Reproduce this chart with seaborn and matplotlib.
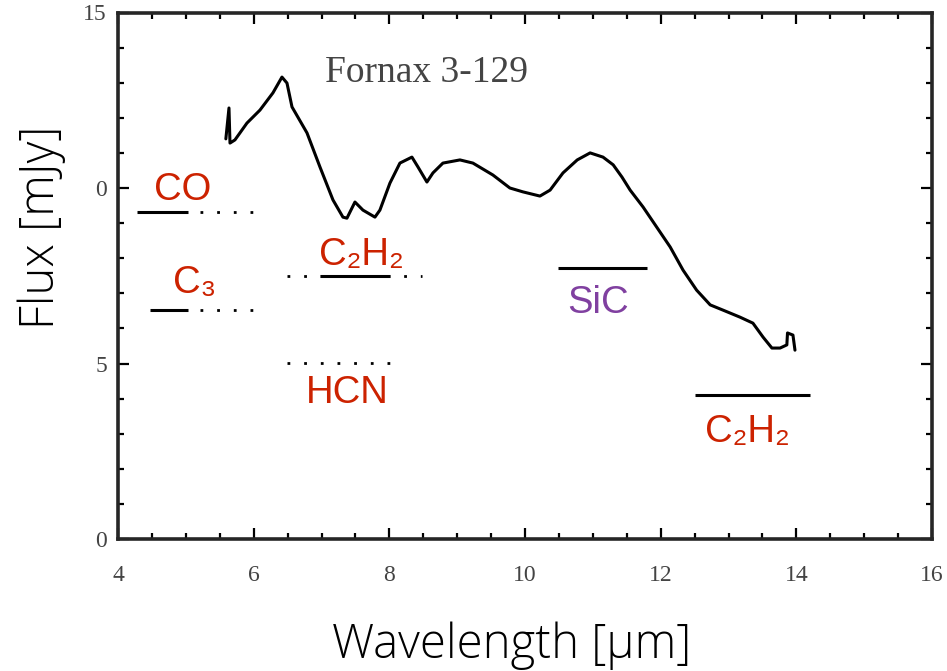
import numpy as np
import pandas as pd
import seaborn as sns
import matplotlib.pyplot as plt
from matplotlib.ticker import MultipleLocator, FixedLocator

# Spectrum of Fornax 3-129
wavelength = [5.59, 5.636, 5.651, 5.724, 5.901, 6.093, 6.284, 6.417, 6.491, 6.565,
              6.786, 6.977, 7.169, 7.316, 7.375, 7.493, 7.611, 7.788, 7.861, 8.009,
              8.156, 8.333, 8.422, 8.554, 8.643, 8.790, 9.041, 9.232, 9.527, 9.777,
              9.969, 10.22, 10.37, 10.56, 10.77, 10.96, 11.15, 11.30, 11.43, 11.55,
              11.74, 11.94, 12.14, 12.33, 12.53, 12.73, 12.92, 13.17, 13.36, 13.51,
              13.64, 13.76, 13.86, 13.87, 13.95, 13.98]
flux = [11.40, 12.28, 11.28, 11.37, 11.85, 12.22, 12.71, 13.16, 12.99, 12.31,
        11.57, 10.60, 9.66, 9.17, 9.14, 9.60, 9.37, 9.17, 9.37, 10.14,
        10.71, 10.88, 10.60, 10.17, 10.43, 10.71, 10.80, 10.71, 10.37, 10.00,
        9.89, 9.77, 9.94, 10.43, 10.80, 11.00, 10.88, 10.66, 10.31, 9.94,
        9.46, 8.89, 8.32, 7.66, 7.09, 6.67, 6.52, 6.32, 6.15, 5.75,
        5.44, 5.44, 5.53, 5.87, 5.81, 5.38]

# Molecular bands
band_names = ["CO", "C₃", "C₂H₂", "HCN", "SiC", "C₂H₂"]
band_level = [9.32, 6.52, 7.49, 5.01, 7.72, 4.10]
solid_start = [4.28, 4.47, 6.98, None, 10.49, 12.50]
solid_end = [5.03, 5.03, 8.01, None, 11.80, 14.20]
dot_start = [5.21, 5.21, 6.49, 6.49, None, None]
dot_end = [5.99, 5.99, 8.48, 8.20, None, None]
band_colors = ["#CC2200", "#CC2200", "#CC2200", "#CC2200", "#8040A0", "#CC2200"]
label_x = [4.53, 4.81, 6.96, 6.77, 10.62, 12.65]
label_y = [9.66, 7.01, 7.81, 3.87, 6.44, 2.76]

sns.set_style("ticks")
plt.rcParams['font.family'] = ['Liberation Serif', 'DejaVu Serif']

fig = plt.figure(figsize=(9.47, 6.71), dpi=100)
ax = fig.add_axes([118 / 947, 1 - 539 / 671, 814 / 947, 526.5 / 671])

df = pd.DataFrame({"Wavelength": wavelength, "Flux": flux})
sns.lineplot(data=df, x="Wavelength", y="Flux", sort=False, estimator=None,
             color="black", lw=2.2, ax=ax)

# band markers
for i in range(len(band_names)):
    if solid_start[i] is not None:
        ax.plot([solid_start[i], solid_end[i]], [band_level[i]] * 2,
                color="black", lw=2.2, solid_capstyle="butt")
    if dot_start[i] is not None:
        ax.plot([dot_start[i], dot_end[i]], [band_level[i]] * 2,
                color="black", lw=2.0, linestyle=(0, (1, 5)))
    ax.text(label_x[i], label_y[i], band_names[i], color=band_colors[i],
            fontsize=27.5, family=['Liberation Sans', 'DejaVu Sans'],
            ha="left", va="baseline")

ax.text(8.55, 13.27, "Fornax 3-129", fontsize=27, color="#444444",
        ha="center", va="center")

ax.set_xlim(4, 16)
ax.set_ylim(0, 15)
ax.xaxis.set_major_locator(MultipleLocator(2))
ax.xaxis.set_minor_locator(MultipleLocator(0.5))
ax.yaxis.set_major_locator(FixedLocator([0, 5, 10, 15]))
ax.set_yticklabels(["0", "5", "0", "15"])
ax.yaxis.set_minor_locator(MultipleLocator(1))
ax.tick_params(which="both", direction="in", top=True, right=True,
               width=1.6, colors="black", labelcolor="#444444", labelsize=17)
ax.tick_params(which="major", length=8)
ax.tick_params(which="minor", length=4)
ax.tick_params(axis="x", pad=19)
ax.tick_params(axis="y", pad=8)
for s in ax.spines.values():
    s.set_linewidth(2.6)
    s.set_visible(True)
ax.set_xlabel("")
ax.set_ylabel("")

fig.text(512 / 947, 1 - 658 / 671, "Wavelength [μm]", fontsize=34,
         family=['Open Sans', 'DejaVu Sans'], fontweight="light", color="black",
         ha="center", va="baseline")
fig.text(42 / 947, 1 - 227 / 671, "Flux [mJy]", fontsize=34, rotation=90,
         family=['Open Sans', 'DejaVu Sans'], fontweight="light", color="black",
         ha="center", va="center")

fig.savefig("out.png", dpi=100)
